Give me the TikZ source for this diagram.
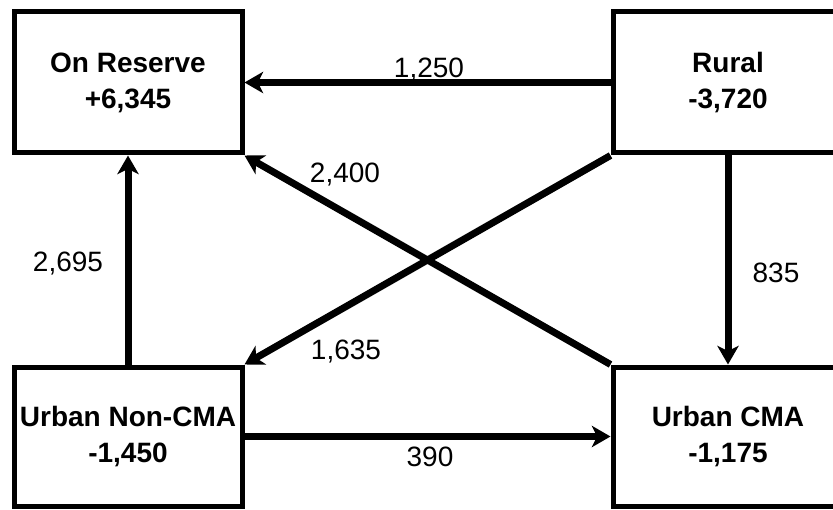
\documentclass[tikz,border=0pt]{standalone}
\usepackage{fontspec}
\setmainfont{Liberation Sans}
\usetikzlibrary{arrows.meta}
\begin{document}
\begin{tikzpicture}[x=0.75pt,y=-0.75pt,
  region/.style={draw, line width=3.75pt, inner sep=0pt, align=center,
    font=\fontsize{21}{27}\selectfont\bfseries},
  flow/.style={line width=5.25pt,
    -{Stealth[length=14pt,width=16pt,inset=4pt]}},
  qty/.style={font=\fontsize{21}{27}\selectfont, anchor=base, inner sep=0pt}]
\useasboundingbox (0,0) rectangle (833,510);
\clip (0,0) rectangle (833,510);

% regions
\node[region, minimum width=171pt, minimum height=105.75pt] (res) at (128,82.5) {On Reserve\\+6,345};
\node[region, minimum width=172.5pt, minimum height=105.75pt] (rural) at (728,82.5) {Rural\\-3,720};
\node[region, minimum width=171pt, minimum height=104.25pt] (nonc) at (128,436.5) {Urban Non-CMA\\-1,450};
\node[region, minimum width=172.5pt, minimum height=104.25pt] (cma) at (728,436.5) {Urban CMA\\-1,175};

% flows between regions
\draw[flow] (rural.west) -- (res.east);
\draw[flow] (nonc.north) -- (res.south);
\draw[flow] (cma.north west) -- (res.south east);
\draw[flow] (rural.south west) -- (nonc.north east);
\draw[flow] (rural.south) -- (cma.north);
\draw[flow] (nonc.east) -- (cma.west);

% flow quantities
\node[qty] (q1) at (429,78) {1,250};
\node[qty] (q2) at (345,182) {2,400};
\node[qty] (q3) at (68,272) {2,695};
\node[qty] (q4) at (776,282) {835};
\node[qty] (q5) at (346,359) {1,635};
\node[qty] (q6) at (430,466) {390};
\end{tikzpicture}
\end{document}
